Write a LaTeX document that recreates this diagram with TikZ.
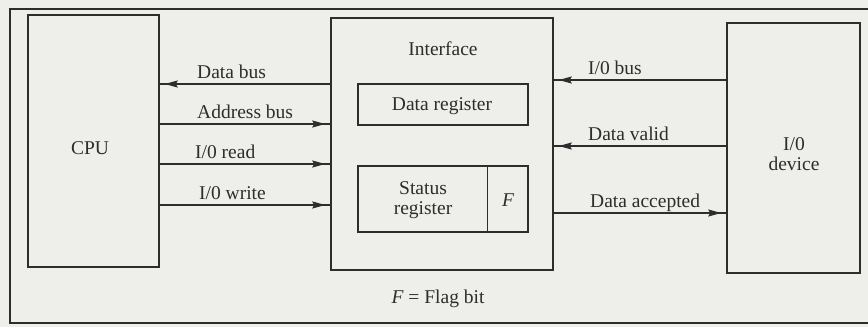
\documentclass[tikz,border=0pt]{standalone}
\usepackage{fontspec}
\setmainfont{Liberation Serif}
\usetikzlibrary{arrows.meta,decorations.markings}

\definecolor{paper}{RGB}{238,238,235}
\definecolor{ink}{RGB}{45,45,45}

\begin{document}
\begin{tikzpicture}[x=1pt,y=-1pt,
  every node/.style={font=\fontsize{19.5}{20}\selectfont, text=ink, inner sep=0pt},
  unit/.style={draw=ink, line width=1.5pt, rectangle},
  lbl/.style={anchor=base west},
  bus/.style={draw=ink, line width=1.8pt,
    postaction={decorate},
    decoration={markings,
      mark=at position -5pt with {\arrow[ink]{Stealth[length=13pt,width=7pt,inset=2pt]}}}}
]
% page and outer frame
\useasboundingbox (0,0) rectangle (868,327);
\fill[paper] (0,0) rectangle (868,327);
\draw[ink, line width=1.3pt] (868,9) -- (10,9) -- (10,323) -- (868,323);

% main blocks
\node[unit, minimum width=131pt, minimum height=252pt] (cpu) at (93.5,141) {};
\node at (90,148) {CPU};

\node[unit, minimum width=222pt, minimum height=252pt] (iface) at (442,144) {};
\node[anchor=base] (ifacelbl) at (443,55) {Interface};

\node[unit, minimum width=170pt, minimum height=41pt] (dreg) at (443,104.5) {};
\node[anchor=base] (dreglbl) at (442,110) {Data register};

\node[unit, minimum width=170pt, minimum height=66pt] (sreg) at (443,199) {};
\draw[ink, line width=1.5pt] (sreg.north west) ++(130,0) coordinate (fsplit) -- (fsplit |- sreg.south);
\node[align=center] (sreglbl) at (423,200) {Status\\register};
\node (flag) at (508,200) {\itshape F};

\node[unit, minimum width=133pt, minimum height=250pt] (iodev) at (793.5,148) {};
\node[align=center] (iodevlbl) at (794,154) {I/0\\device};

\node[anchor=base] (legend) at (438,303) {\itshape F\/\upshape{} = Flag bit};

% signal levels
\coordinate (ydata) at (0,84);
\coordinate (yaddr) at (0,124);
\coordinate (yrd)   at (0,164);
\coordinate (ywr)   at (0,205);
\coordinate (yiob)  at (0,80);
\coordinate (yval)  at (0,146);
\coordinate (yacc)  at (0,213);

% CPU side
\draw[bus] (iface.west |- ydata) -- (cpu.east |- ydata);
\draw[bus] (cpu.east |- yaddr) -- (iface.west |- yaddr);
\draw[bus] (cpu.east |- yrd) -- (iface.west |- yrd);
\draw[bus] (cpu.east |- ywr) -- (iface.west |- ywr);
\node[lbl] at (197,78) {Data bus};
\node[lbl] at (197,118) {Address bus};
\node[lbl] at (195,158) {I/0 read};
\node[lbl] at (199,199) {I/0 write};

% device side
\draw[bus] (iodev.west |- yiob) -- (iface.east |- yiob);
\draw[bus] (iodev.west |- yval) -- (iface.east |- yval);
\draw[bus] (iface.east |- yacc) -- (iodev.west |- yacc);
\node[lbl] at (588,74) {I/0 bus};
\node[lbl] at (588,140) {Data valid};
\node[lbl] at (590,207) {Data accepted};
\end{tikzpicture}
\end{document}
